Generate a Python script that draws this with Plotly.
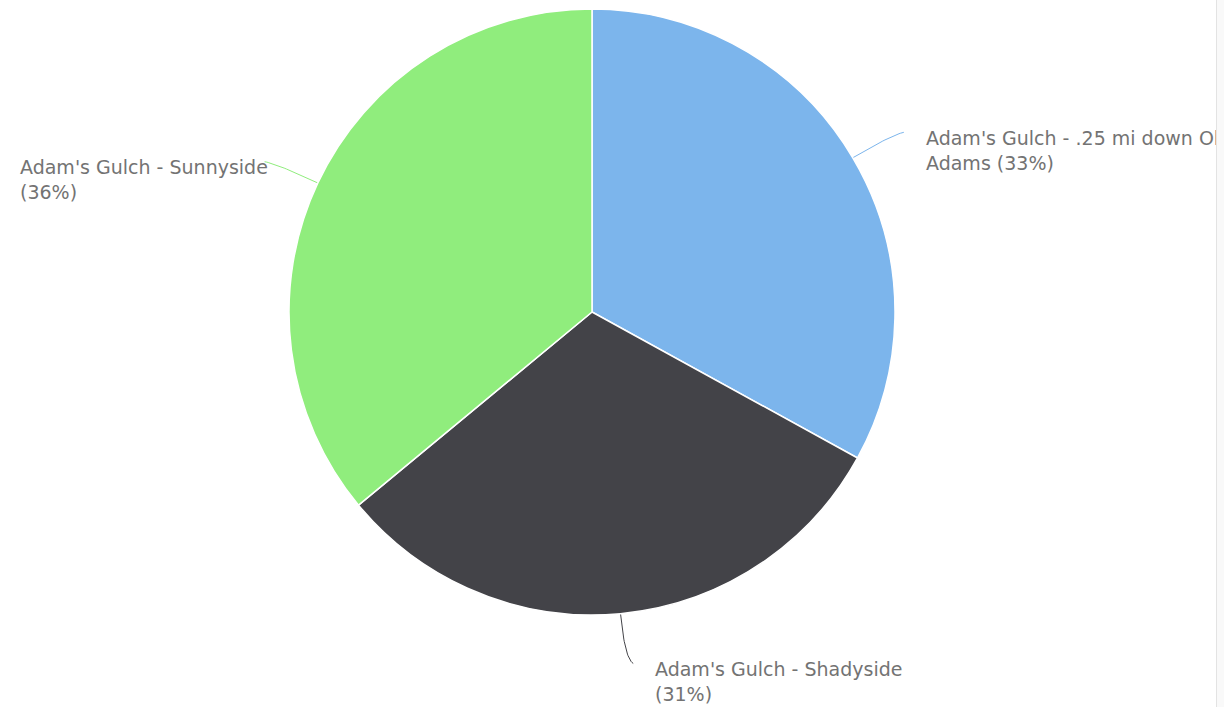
import numpy as np
import plotly.graph_objects as go

# Slice data (share of observations per site)
sites = [
    "Adam's Gulch - .25 mi down Old Adams",
    "Adam's Gulch - Shadyside",
    "Adam's Gulch - Sunnyside",
]
shares = [33, 31, 36]
colors = ["#7cb5ec", "#434348", "#90ed7d"]
# Wrapped label text, percentage is filled in from the shares
label_templates = [
    "Adam's Gulch - .25 mi down Old<br>Adams ({p}%)",
    "Adam's Gulch - Shadyside<br>({p}%)",
    "Adam's Gulch - Sunnyside<br>({p}%)",
]

W, H = 1224, 707
cx, cy, R = 592, 312, 303          # pie centre and radius in pixels
clip_x = 1216                       # right edge of the chart container

fig = go.Figure()

# Pixel-space helper axes for connectors
fig.update_xaxes(range=[0, W], visible=False, fixedrange=True)
fig.update_yaxes(range=[H, 0], visible=False, fixedrange=True)

fig.add_trace(go.Pie(
    labels=sites,
    values=shares,
    sort=False,
    direction="clockwise",
    rotation=0,
    marker=dict(colors=colors, line=dict(color="#ffffff", width=1.5)),
    textinfo="none",
    hoverinfo="label+percent",
    showlegend=False,
    domain=dict(x=[(cx - R) / W, (cx + R) / W],
                y=[1 - (cy + R) / H, 1 - (cy - R) / H]),
))

total = float(sum(shares))
cum = np.cumsum([0] + shares[:-1])
annotations = []
for i, (v, c0) in enumerate(zip(shares, cum)):
    theta = 2 * np.pi * (c0 + v / 2) / total
    dx, dy = np.sin(theta), -np.cos(theta)
    side = 1 if dx > 0 else -1
    p0 = np.array([cx + R * dx, cy + R * dy])
    p1 = np.array([cx + (R + 45) * dx, cy + (R + 45) * dy])
    p2 = np.array([cx + (R + 50) * dx + side * 8, cy + (R + 50) * dy])
    t = np.linspace(0, 1, 25)[:, None]
    curve = (1 - t) ** 2 * p0 + 2 * (1 - t) * t * p1 + t ** 2 * p2
    fig.add_trace(go.Scatter(
        x=curve[:, 0], y=curve[:, 1], mode="lines",
        line=dict(color=colors[i], width=1),
        hoverinfo="skip", showlegend=False,
    ))
    pct = round(100 * v / total)
    text = label_templates[i].format(p=pct)
    if side > 0:
        ax, xanchor = p2[0] + 20, "left"
    else:
        ax, xanchor = p2[0] + 5, "right"
    annotations.append(dict(
        x=ax, y=p2[1] + 18, xref="x", yref="y",
        text=text, showarrow=False, xanchor=xanchor, yanchor="middle",
        align="left",
        font=dict(family="DejaVu Sans", size=19, color="#737373"),
    ))

# Container edge strip on the right
annotations.append(dict(
    x=clip_x, y=H / 2, xref="x", yref="y", text=" ", showarrow=False,
    xanchor="left", yanchor="middle", width=40, height=H + 60,
    bgcolor="#f9f9f9", bordercolor="#e3e3e3", borderwidth=1, borderpad=0,
))

fig.update_layout(
    width=W, height=H, autosize=False,
    margin=dict(l=0, r=0, t=0, b=0),
    paper_bgcolor="#ffffff", plot_bgcolor="rgba(0,0,0,0)",
    annotations=annotations,
)

fig.write_html("out.html")
